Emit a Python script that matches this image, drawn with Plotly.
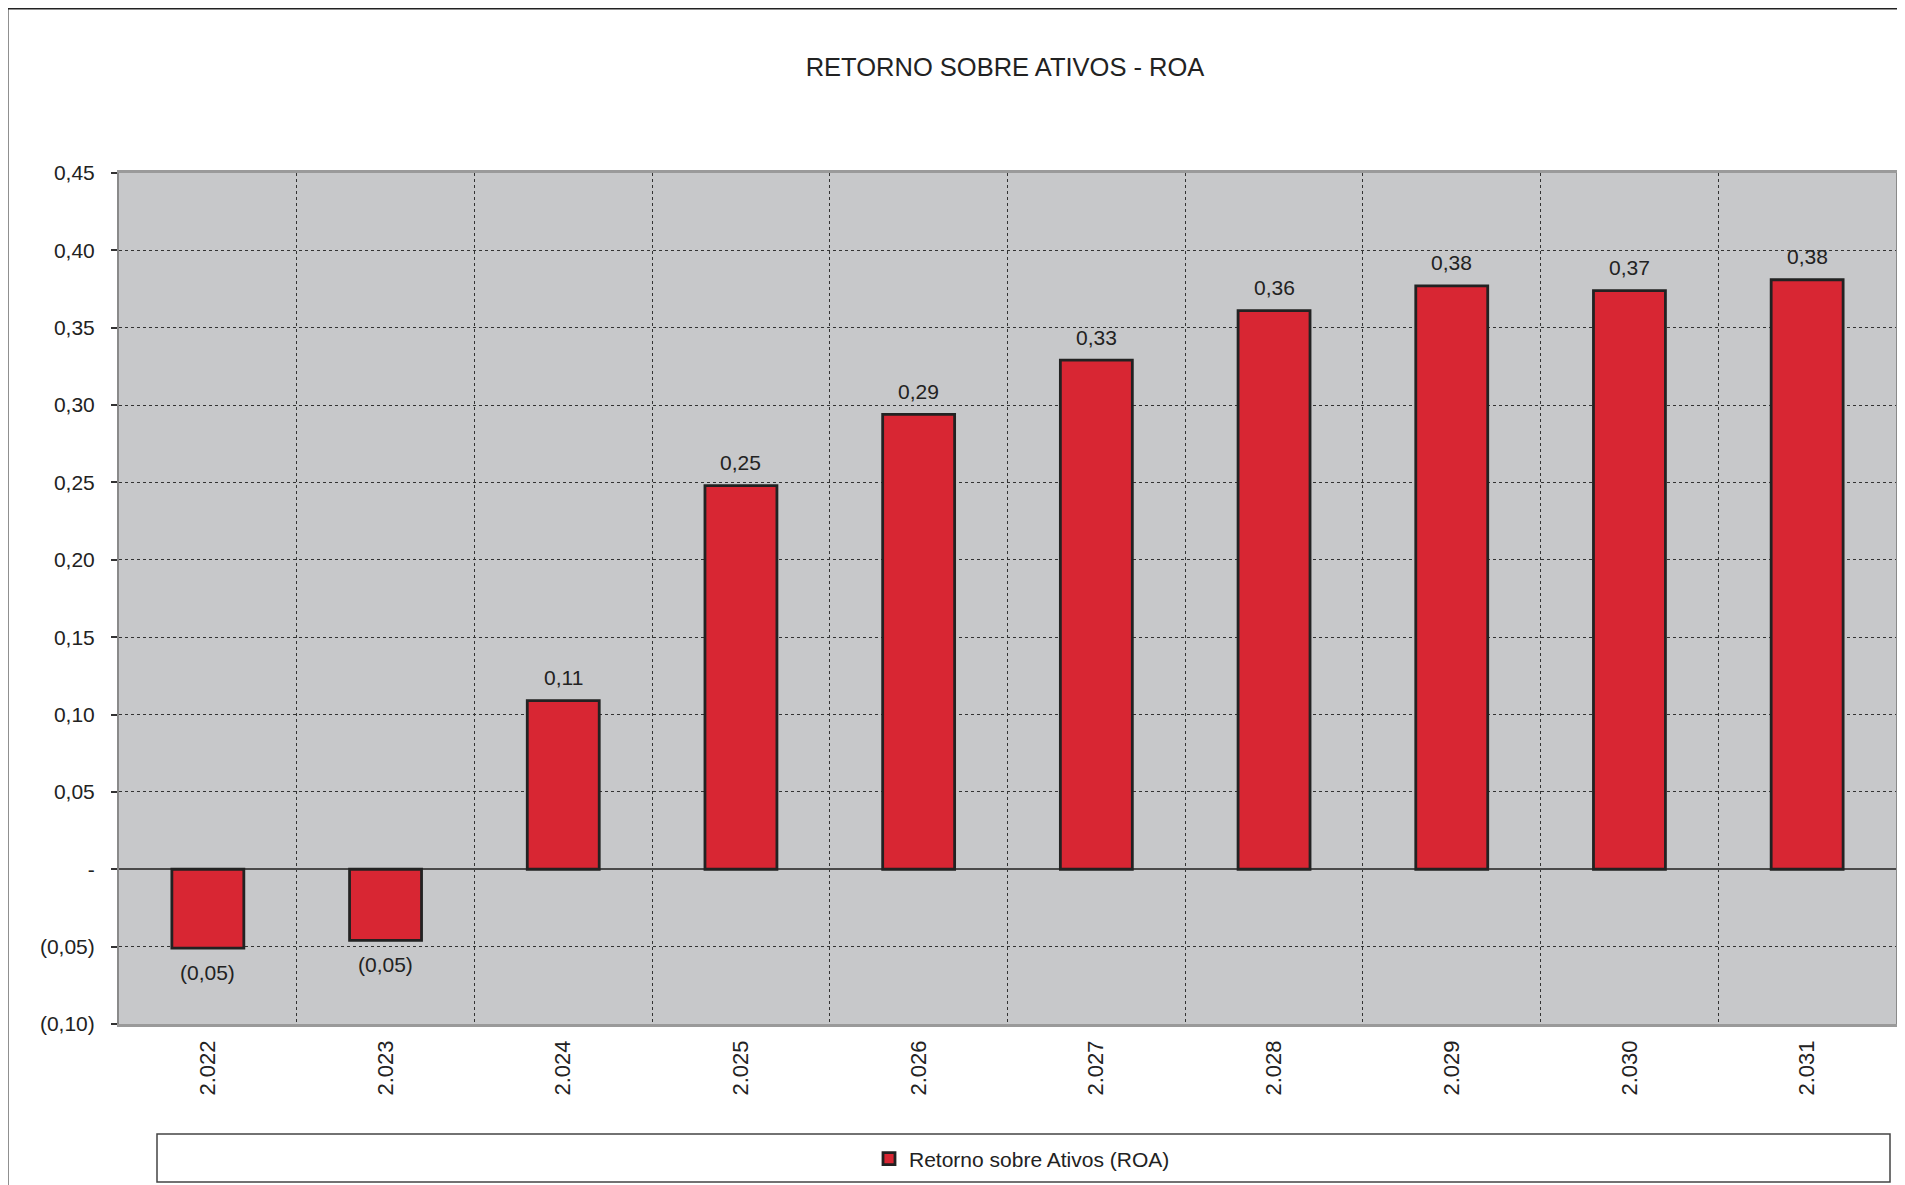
import plotly.graph_objects as go

# ---- data ----
years = ["2.022", "2.023", "2.024", "2.025", "2.026", "2.027", "2.028", "2.029", "2.030", "2.031"]
roa = [-0.051, -0.046, 0.109, 0.248, 0.294, 0.329, 0.361, 0.377, 0.374, 0.381]
y_ticks = [-0.10, -0.05, 0.0, 0.05, 0.10, 0.15, 0.20, 0.25, 0.30, 0.35, 0.40, 0.45]
series_name = "Retorno sobre Ativos (ROA)"
title_text = "RETORNO SOBRE ATIVOS - ROA"


def fmt(v):
    if abs(v) < 1e-9:
        return "-"
    s = f"{abs(v):.2f}".replace(".", ",")
    return f"({s})" if v < 0 else s


FONT = "Liberation Sans, Arial, Helvetica, sans-serif"
TXT = "#222222"
OFF = 8  # page body margin

W, H = 1905, 1185
# plot area in page pixels: x 119..1896, y 173..1024
L = 119 - OFF
T = 173 - OFF
R = W - (1896 - OFF)
B = H - (1024 - OFF)
pw, ph = W - L - R, H - T - B


def px_x(p):
    return (p - OFF - L) / pw


def px_y(p):
    return (H - B - (p - OFF)) / ph


fig = go.Figure()
fig.add_trace(go.Bar(
    x=years, y=roa, name=series_name,
    marker=dict(color="#D82633", line=dict(color="#222222", width=2.8)),
    width=0.405, showlegend=True, hoverinfo="skip",
))

annotations = []
for i, v in enumerate(roa):
    annotations.append(dict(
        x=i, y=v, text=fmt(v), showarrow=False,
        xref="x", yref="y", yanchor="middle",
        yshift=23 if v >= 0 else -24,
        font=dict(family=FONT, size=21, color=TXT),
    ))

shapes = [
    # legend box
    dict(type="rect", xref="paper", yref="paper",
         x0=px_x(157), x1=px_x(1890), y0=px_y(1182), y1=px_y(1134),
         line=dict(color="#444444", width=1.5), fillcolor="white", layer="below"),
    # outer frame (left and top edges)
    dict(type="line", xref="paper", yref="paper",
         x0=px_x(7), x1=px_x(7), y0=px_y(1200), y1=px_y(8),
         line=dict(color="#222222", width=3)),
    dict(type="line", xref="paper", yref="paper",
         x0=px_x(7), x1=px_x(1920), y0=px_y(8), y1=px_y(8),
         line=dict(color="#222222", width=3)),
]

fig.update_layout(
    width=W, height=H,
    margin=dict(l=L, r=R, t=T, b=B, pad=0, autoexpand=False),
    paper_bgcolor="white",
    plot_bgcolor="#C7C8CA",
    font=dict(family=FONT, size=21, color=TXT),
    title=dict(text=title_text, x=px_x(1005), xref="paper", xanchor="center",
               y=1 - (67 - OFF) / H, yanchor="middle",
               font=dict(family=FONT, size=25.5, color=TXT)),
    bargap=0.595,
    showlegend=True,
    legend=dict(orientation="h", x=px_x(1022), xanchor="center",
                y=px_y(1159), yanchor="middle",
                bgcolor="rgba(0,0,0,0)", borderwidth=0,
                font=dict(family=FONT, size=21, color=TXT),
                itemwidth=30),
    annotations=annotations,
    shapes=shapes,
)

fig.update_xaxes(
    type="category",
    tickson="boundaries",
    showgrid=True, gridcolor="#333333", griddash="dot", gridwidth=1,
    tickangle=-90, ticks="", ticklabelstandoff=5,
    showline=True, linecolor="#9A9A9A", linewidth=2.5, mirror=True,
    tickfont=dict(family=FONT, size=22, color=TXT),
    range=[-0.5, 9.5],
)

fig.update_yaxes(
    range=[-0.10, 0.45],
    tickvals=y_ticks, ticktext=[fmt(v) for v in y_ticks],
    showgrid=True, gridcolor="#333333", griddash="dot", gridwidth=1,
    zeroline=True, zerolinecolor="#4A4A4A", zerolinewidth=2,
    ticks="outside", ticklen=6, tickcolor="#333333", tickwidth=1.5,
    ticklabelstandoff=12,
    showline=True, linecolor="#8A8A8A", linewidth=2, mirror=True,
    tickfont=dict(family=FONT, size=21, color=TXT),
)

fig.write_html("out.html")
